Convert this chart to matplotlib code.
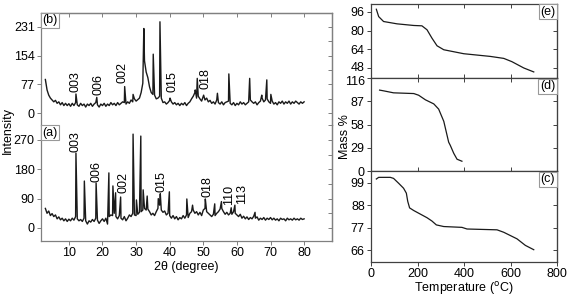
import numpy as np
import matplotlib
matplotlib.use("Agg")
import matplotlib.pyplot as plt
import matplotlib.transforms as mtransforms
from matplotlib.ticker import MultipleLocator

plt.rcParams['font.family'] = ['Liberation Sans', 'DejaVu Sans']
plt.rcParams['font.size'] = 9

# ---------------- XRD data ----------------
two_theta_start = 3.0
two_theta_step = 0.5
# (a) baseline intensities every 0.5 deg from 3.0 to 80.0
xrd_a_base = [60, 45, 52, 38, 44, 35, 40, 28, 34, 25, 30, 22, 28, 20, 27, 22, 30, 24, 35, 28,
              22, 26, 20, 30, 22, 12, 22, 18, 26, 20, 30, 24, 14, 22, 28, 20, 30, 12, 35, 40,
              38, 45, 35, 28, 38, 30, 25, 35, 22, 30, 40, 35, 45, 40, 38, 42, 48, 50, 55, 60,
              55, 58, 50, 40, 45, 38, 50, 60, 70, 55, 48, 52, 40, 45, 38, 30, 38, 28, 35, 25,
              32, 28, 38, 30, 40, 32, 45, 50, 55, 45, 50, 40, 48, 38, 55, 60, 50, 45, 40, 35,
              42, 38, 45, 50, 58, 60, 50, 42, 48, 40, 45, 42, 50, 45, 40, 35, 42, 30, 36, 28,
              34, 26, 32, 28, 36, 30, 34, 24, 30, 26, 32, 24, 30, 26, 32, 25, 30, 24, 28, 22,
              30, 26, 28, 22, 30, 25, 28, 24, 30, 25, 28, 24, 30, 26, 28]
xrd_a_peak_pos = [12.1, 14.6, 18.1, 21.9, 23.1, 23.9, 25.4, 29.1, 30.1, 31.4, 32.1, 33.3,
                  36.6, 37.2, 39.9, 45.1, 46.8, 50.6, 53.4, 55.4, 58.3, 59.4, 65.4]
xrd_a_peak_int = [230, 144, 138, 169, 129, 108, 95, 288, 86, 282, 117, 98,
                  90, 105, 111, 89, 70, 89, 74, 81, 62, 70, 48]

# (b) baseline intensities every 0.5 deg from 3.0 to 80.0
xrd_b_base = [90, 62, 48, 40, 35, 30, 34, 26, 30, 22, 28, 20, 26, 20, 25, 18, 26, 20, 28, 22,
              18, 26, 20, 24, 16, 24, 20, 26, 18, 24, 28, 22, 16, 24, 20, 26, 18, 24, 20, 28,
              22, 26, 20, 28, 22, 26, 30, 28, 24, 30, 26, 35, 30, 38, 32, 36, 40, 55, 80, 140,
              110, 95, 70, 55, 50, 48, 38, 40, 45, 40, 28, 30, 24, 28, 34, 30, 24, 28, 22, 26,
              20, 26, 22, 28, 20, 26, 30, 38, 45, 55, 40, 45, 38, 32, 45, 35, 40, 30, 34, 26,
              30, 24, 35, 28, 24, 30, 22, 28, 30, 32, 26, 22, 28, 20, 26, 22, 30, 24, 28, 22,
              26, 30, 35, 30, 26, 30, 22, 28, 32, 40, 30, 35, 38, 30, 26, 32, 24, 28, 22, 30,
              26, 32, 24, 30, 26, 32, 24, 30, 26, 32, 28, 24, 30, 26, 30]
xrd_b_peak_pos = [12.1, 18.3, 26.6, 29.1, 32.3, 35.1, 37.1, 40.1, 47.6, 48.2, 50.1,
                  54.2, 57.6, 63.8, 67.4, 68.9, 70.1]
xrd_b_peak_int = [51, 42, 71, 50, 227, 158, 245, 40, 62, 93, 48,
                  53, 105, 93, 48, 89, 50]

a_labels = ['003', '006', '002', '015', '018', '110', '113']
a_label_x = [12.1, 18.2, 26.2, 37.6, 51.2, 57.8, 61.4]
a_label_y = [234, 142, 106, 111, 94, 71, 73]
b_labels = ['003', '006', '002', '015', '018']
b_label_x = [12.1, 18.7, 26.1, 40.9, 50.8]
b_label_y = [56, 48, 80, 56, 64]

a_ticks = [0, 90, 180, 270]
b_ticks = [0, 77, 154, 231]
x_ticks_xrd = [10, 20, 30, 40, 50, 60, 70, 80]

# ---------------- TGA data ----------------
tga_e_T = [23, 33, 54, 112, 184, 219, 241, 262, 284, 313, 399, 513, 571, 606, 657, 700]
tga_e_m = [98.3, 92.0, 87.8, 85.8, 84.4, 84.1, 80.7, 73.6, 67.0, 63.6, 60.2, 57.9, 56.2, 53.4, 48.0, 44.6]
tga_d_T = [37, 54, 97, 184, 205, 234, 270, 291, 313, 334, 341, 356, 370, 391]
tga_d_m = [100.9, 100.0, 97.5, 96.6, 94.5, 88.8, 83.7, 77.2, 62.0, 36.0, 32.0, 22.0, 14.7, 12.2]
tga_c_T = [23, 33, 83, 97, 119, 140, 152, 158, 166, 184, 241, 262, 281, 313, 391, 413, 542, 571, 628, 664, 700]
tga_c_m = [100.8, 101.6, 101.6, 101.1, 98.7, 96.3, 93.9, 89.9, 86.7, 85.4, 81.9, 80.3, 78.4, 77.6,
           77.2, 76.4, 76.0, 74.8, 71.6, 68.4, 66.3]
e_ticks = [48, 64, 80, 96]
d_ticks = [0, 29, 58, 87, 116]
c_ticks = [66, 77, 88, 99]
T_ticks = [0, 200, 400, 600, 800]


def build_trace(base, pk_pos, pk_int):
    x = list(two_theta_start + two_theta_step * np.arange(len(base)))
    y = list(base)
    xs = np.array(x + list(pk_pos))
    ys = np.array(y + list(pk_int))
    order = np.argsort(xs, kind='stable')
    return xs[order], ys[order]


W, H = 567, 297
fig = plt.figure(figsize=(W / 100, H / 100), dpi=100)

line_col = '#1a1a1a'
left_spine = '#808080'
right_spine = '#404040'


def fr(x0, y0, x1, y1):
    return [x0 / W, 1 - y1 / H, (x1 - x0) / W, (y1 - y0) / H]


axB = fig.add_axes(fr(41, 12.7, 332, 125))
axA = fig.add_axes(fr(41, 125, 332, 241))

xa, ya = build_trace(xrd_a_base, xrd_a_peak_pos, xrd_a_peak_int)
xb, yb = build_trace(xrd_b_base, xrd_b_peak_pos, xrd_b_peak_int)
axA.plot(xa, ya, color=line_col, lw=1.0)
axB.plot(xb, yb, color=line_col, lw=1.0)

axB.set_ylim(-32.2, 269.4)
axA.set_ylim(-40, 316)
for ax, ticks, minor in ((axA, a_ticks, 45), (axB, b_ticks, 38.5)):
    ax.set_xlim(1.7, 88.3)
    ax.set_yticks(ticks)
    ax.set_xticks(x_ticks_xrd)
    ax.yaxis.set_minor_locator(MultipleLocator(minor))
    for s in ax.spines.values():
        s.set_color(left_spine)
        s.set_linewidth(0.9)
    ax.tick_params(axis='y', which='both', direction='out', length=3, width=0.7,
                   color=left_spine, pad=1.5, left=True, right=False)
    ax.tick_params(axis='y', which='minor', left=False)
    ax.tick_params(axis='x', direction='out', length=3, width=0.7, color=left_spine, pad=1.5)
    sec = ax.secondary_yaxis('right')
    sec.set_yticks(ticks)
    sec.yaxis.set_minor_locator(MultipleLocator(minor))
    sec.tick_params(axis='y', which='both', direction='in', length=3, width=0.7,
                    color=left_spine, labelright=False)
    sec.spines['right'].set_color(left_spine)
    sec.spines['right'].set_linewidth(0.9)

axB.spines['bottom'].set_visible(False)
axB.tick_params(axis='x', bottom=False, labelbottom=False)
axA.spines['top'].set_visible(False)
secx = axB.secondary_xaxis('top')
secx.set_xticks(x_ticks_xrd)
secx.tick_params(axis='x', direction='in', length=3, width=0.7, color=left_spine, labeltop=False)
secx.spines['top'].set_color(left_spine)
secx.spines['top'].set_linewidth(0.9)
axA.set_xlabel('2θ (degree)', labelpad=1)

for lab, x, y in zip(a_labels, a_label_x, a_label_y):
    axA.text(x, y, lab, rotation=90, ha='center', va='bottom')
for lab, x, y in zip(b_labels, b_label_x, b_label_y):
    axB.text(x, y, lab, rotation=90, ha='center', va='bottom')

box = dict(boxstyle='square,pad=0.12', fc='white', ec='#999999', lw=0.8)
axB.text(0.006, 0.985, '(b)', transform=axB.transAxes, ha='left', va='top', bbox=box)
axA.text(0.006, 0.985, '(a)', transform=axA.transAxes, ha='left', va='top', bbox=box)
fig.text(8 / W, 1 - 130 / H, 'Intensity', rotation=90, ha='center', va='center')

# ---------------- right TGA panels ----------------
axE = fig.add_axes(fr(371, 4, 557, 78))
axD = fig.add_axes(fr(371, 78, 557, 171))
axC = fig.add_axes(fr(371, 171, 557, 262))
axE.plot(tga_e_T, tga_e_m, color=line_col, lw=0.9)
axD.plot(tga_d_T, tga_d_m, color=line_col, lw=0.9)
axC.plot(tga_c_T, tga_c_m, color=line_col, lw=0.9)
axE.set_ylim(39.4, 102.8)
axD.set_ylim(0, 116)
axC.set_ylim(60.3, 104.7)
for ax, ticks, lab in ((axE, e_ticks, '(e)'), (axD, d_ticks, '(d)'), (axC, c_ticks, '(c)')):
    ax.set_xlim(0, 800)
    ax.set_xticks(T_ticks)
    ax.set_yticks(ticks)
    for s in ax.spines.values():
        s.set_color(right_spine)
        s.set_linewidth(0.9)
    ax.tick_params(axis='y', direction='out', length=3, width=0.7, color=right_spine, pad=1.5)
    ax.tick_params(axis='x', direction='in', length=3, width=0.7, color=right_spine,
                   top=True, labelbottom=False)
    sec = ax.secondary_yaxis('right')
    sec.set_yticks(ticks)
    sec.tick_params(axis='y', direction='in', length=3, width=0.7, color=right_spine, labelright=False)
    sec.spines['right'].set_color(right_spine)
    ax.text(0.99, 0.975, lab, transform=ax.transAxes, ha='right', va='top', bbox=box)
axC.tick_params(axis='x', direction='out', labelbottom=True, top=False, pad=1.5)
fig.text(464 / W, 1 - 288 / H, 'Temperature ($^{\\mathrm{o}}$C)', ha='center', va='center')
fig.text(345 / W, 1 - 137 / H, 'Mass %', rotation=90, ha='center', va='center')

# nudge the touching tick labels at the (e)/(d) boundary apart
fig.canvas.draw()
up = mtransforms.ScaledTranslation(0, 1.5 / 100, fig.dpi_scale_trans)
down = mtransforms.ScaledTranslation(0, -2.5 / 100, fig.dpi_scale_trans)
lbl_e = axE.get_yticklabels()[0]
lbl_e.set_transform(lbl_e.get_transform() + up)
lbl_d = axD.get_yticklabels()[-1]
lbl_d.set_transform(lbl_d.get_transform() + down)

fig.savefig('out.png', dpi=100)
